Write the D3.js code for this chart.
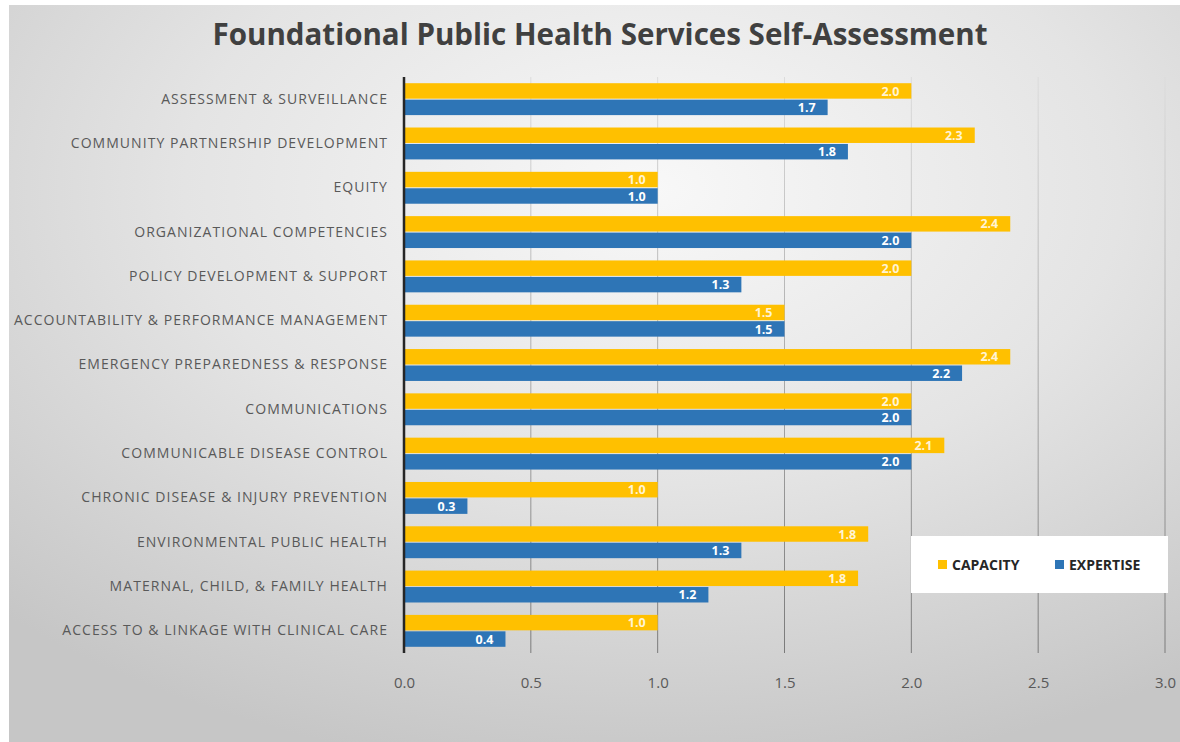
<!DOCTYPE html>
<html>
<head>
<meta charset="utf-8">
<script src="https://cdn.jsdelivr.net/npm/d3@7"></script>
<style>
  body { margin: 0; background: #fff; }
  svg { display: block; }
</style>
</head>
<body>
<svg></svg>
<script>
// categories, top to bottom as drawn
let categories = [
  'ASSESSMENT & SURVEILLANCE',
  'COMMUNITY PARTNERSHIP DEVELOPMENT',
  'EQUITY',
  'ORGANIZATIONAL COMPETENCIES',
  'POLICY DEVELOPMENT & SUPPORT',
  'ACCOUNTABILITY & PERFORMANCE MANAGEMENT',
  'EMERGENCY PREPAREDNESS & RESPONSE',
  'COMMUNICATIONS',
  'COMMUNICABLE DISEASE CONTROL',
  'CHRONIC DISEASE & INJURY PREVENTION',
  'ENVIRONMENTAL PUBLIC HEALTH',
  'MATERNAL, CHILD, & FAMILY HEALTH',
  'ACCESS TO & LINKAGE WITH CLINICAL CARE'
]
// bar lengths (labels are rounded to one decimal)
let capacity  = [2.0, 2.25, 1.0, 2.39, 2.0, 1.5, 2.39, 2.0, 2.13, 1.0, 1.83, 1.79, 1.0]
let expertise = [1.67, 1.75, 1.0, 2.0, 1.33, 1.5, 2.2, 2.0, 2.0, 0.25, 1.33, 1.2, 0.4]
let seriesNames = ['CAPACITY', 'EXPERTISE']
let xTicks = [0, 0.5, 1, 1.5, 2, 2.5, 3]

let width = 1180
let height = 742
let plotLeft = 404
let plotRight = 1165
let plotTop = 77
let plotBottom = 653
let colors = { CAPACITY: '#FFC000', EXPERTISE: '#2E75B6' }

let svg = d3.select('svg').attr('width', width).attr('height', height)
let defs = svg.append('defs')

// soft radial background, lighter near the top middle
let bg = defs.append('radialGradient').attr('id', 'bg')
  .attr('cx', '0.55').attr('cy', '0.25').attr('r', '0.8')
bg.append('stop').attr('offset', '0').attr('stop-color', '#f8f8f8')
bg.append('stop').attr('offset', '0.5').attr('stop-color', '#e4e4e4')
bg.append('stop').attr('offset', '1').attr('stop-color', '#c6c6c6')

let gridGrad = defs.append('linearGradient').attr('id', 'grid')
  .attr('gradientUnits', 'userSpaceOnUse')
  .attr('x1', 0).attr('y1', plotTop).attr('x2', 0).attr('y2', plotBottom)
gridGrad.append('stop').attr('offset', '0').attr('stop-color', '#dcdcdc')
gridGrad.append('stop').attr('offset', '1').attr('stop-color', '#7a7a7a')

svg.append('rect').attr('width', width).attr('height', height).attr('fill', '#fff')
svg.append('rect').attr('x', 9).attr('y', 5).attr('width', width - 9).attr('height', height - 5)
  .attr('fill', 'url(#bg)')

// scales
let xScale = d3.scaleLinear().domain([0, 3]).range([plotLeft, plotRight])
let yScale = d3.scaleBand().domain(categories).range([plotTop, plotBottom])
  .paddingInner(0.28).paddingOuter(0.14)
let ySub = d3.scaleBand().domain(seriesNames).range([0, yScale.bandwidth()]).paddingInner(0.06)

// title
svg.append('text')
  .attr('x', 600).attr('y', 45)
  .attr('text-anchor', 'middle')
  .attr('font-family', 'Open Sans')
  .attr('font-weight', 'bold')
  .attr('font-size', 31)
  .attr('fill', '#404040')
  .attr('textLength', 775)
  .attr('lengthAdjust', 'spacingAndGlyphs')
  .text('Foundational Public Health Services Self-Assessment')

// gridlines
svg.append('g').selectAll('line')
  .data(xTicks.slice(1))
  .enter().append('line')
  .attr('x1', d => xScale(d)).attr('x2', d => xScale(d))
  .attr('y1', plotTop).attr('y2', plotBottom)
  .attr('stroke', 'url(#grid)').attr('stroke-width', 1)

// x axis tick labels
let xAxis = d3.axisBottom(xScale).tickValues(xTicks).tickFormat(d3.format('.1f')).tickSize(0).tickPadding(24)
let xg = svg.append('g').attr('transform', 'translate(0,' + plotBottom + ')').call(xAxis)
xg.select('.domain').remove()
xg.selectAll('text').attr('font-family', 'Open Sans').attr('font-size', 15).attr('fill', '#595959')

// y axis labels
let yAxis = d3.axisLeft(yScale).tickSize(0).tickPadding(16)
let yg = svg.append('g').attr('transform', 'translate(' + plotLeft + ',0)').call(yAxis)
yg.select('.domain').remove()
yg.selectAll('text')
  .attr('font-family', 'Open Sans').attr('font-size', 14)
  .attr('letter-spacing', '1.05px')
  .attr('fill', '#595959')

// bars
let rows = categories.map((c, i) => ({ cat: c, CAPACITY: capacity[i], EXPERTISE: expertise[i] }))
let groups = svg.append('g').selectAll('g')
  .data(rows).enter().append('g')
  .attr('transform', d => 'translate(0,' + yScale(d.cat) + ')')

let fmt = d3.format('.1f')
seriesNames.forEach(s => {
  groups.append('rect')
    .attr('x', xScale(0))
    .attr('y', ySub(s))
    .attr('width', d => xScale(d[s]) - xScale(0))
    .attr('height', ySub.bandwidth())
    .attr('fill', colors[s])
  groups.append('text')
    .attr('x', d => xScale(d[s]) - 12)
    .attr('y', ySub(s) + ySub.bandwidth() / 2)
    .attr('dy', '0.37em')
    .attr('text-anchor', 'end')
    .attr('font-family', 'Open Sans')
    .attr('font-weight', 'bold')
    .attr('font-size', 12.5)
    .attr('fill', s === 'CAPACITY' ? '#fff4d4' : '#ffffff')
    .text(d => fmt(d[s]))
})

// axis line
svg.append('line')
  .attr('x1', plotLeft).attr('x2', plotLeft).attr('y1', plotTop).attr('y2', plotBottom)
  .attr('stroke', '#262626').attr('stroke-width', 2.5)

// legend
let legend = svg.append('g')
legend.append('rect').attr('x', 911).attr('y', 536).attr('width', 257).attr('height', 57).attr('fill', '#fff')
let legendX = [938, 1055]
seriesNames.forEach((s, i) => {
  legend.append('rect').attr('x', legendX[i]).attr('y', 560).attr('width', 9).attr('height', 9)
    .attr('fill', colors[s])
  legend.append('text').attr('x', legendX[i] + 14).attr('y', 569.5)
    .attr('font-family', 'Open Sans').attr('font-weight', 'bold').attr('font-size', 14)
    .attr('fill', '#262626')
    .text(s)
})
</script>
</body>
</html>
